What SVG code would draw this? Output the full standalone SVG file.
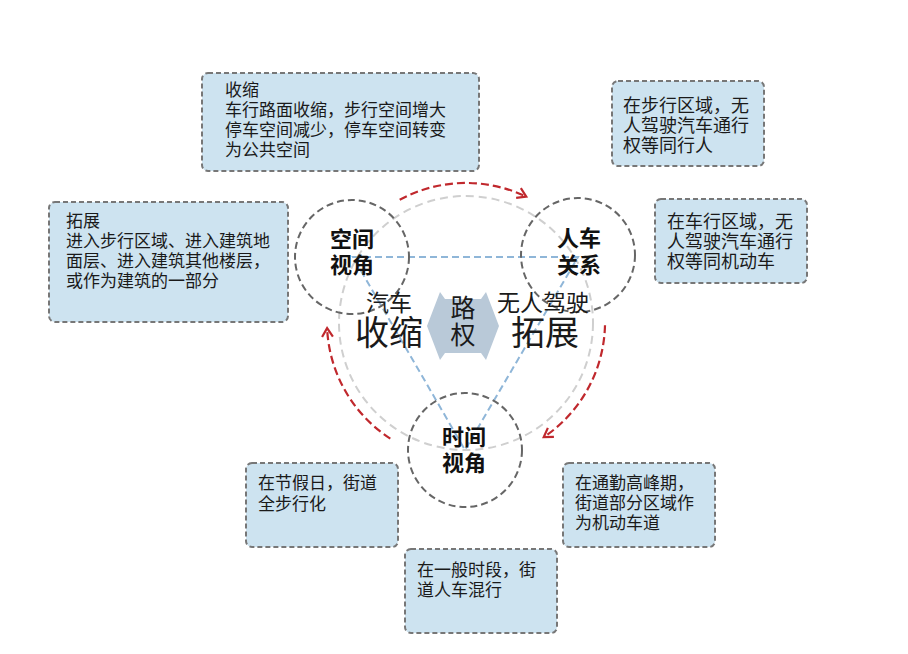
<svg xmlns="http://www.w3.org/2000/svg" width="908" height="654" viewBox="0 0 908 654">
<defs>
<style>
.box{fill:#cde3f0;stroke:#777;stroke-width:2;stroke-dasharray:5 3}
.bt{font-family:"Liberation Sans","Noto Sans CJK SC",sans-serif;font-size:17px;fill:#1a1a1a}
.bt18{font-size:18px}
.ring{fill:none;stroke:#666;stroke-width:2;stroke-dasharray:7 4}
.ct{font-family:"Liberation Sans","Noto Sans CJK SC",sans-serif;font-size:22px;font-weight:700;fill:#111;text-anchor:middle}
.big{fill:none;stroke:#cfcfcf;stroke-width:2;stroke-dasharray:8 5}
.tri{fill:none;stroke:#8fb6d8;stroke-width:2;stroke-dasharray:7 4}
.red{fill:none;stroke:#c0282d;stroke-width:2.2;stroke-dasharray:8 4;marker-end:url(#ah)}
.mt{font-family:"Liberation Sans","Noto Sans CJK SC",sans-serif;fill:#1a1a1a;text-anchor:middle}
</style>
<marker id="ah" viewBox="0 0 12 12" refX="9" refY="6" markerWidth="13" markerHeight="13" markerUnits="userSpaceOnUse" orient="auto">
<path d="M1,1 L9,6 L1,11" fill="none" stroke="#c0282d" stroke-width="2"/>
</marker>
</defs>
<rect width="908" height="654" fill="#ffffff"/>

<g id="box-shrink">
<rect class="box" x="202" y="73" width="277" height="98" rx="6"/>
<text class="bt"><tspan x="225" y="96">收缩</tspan><tspan x="225" y="116">车行路面收缩，步行空间增大</tspan><tspan x="225" y="136">停车空间减少，停车空间转变</tspan><tspan x="225" y="156">为公共空间</tspan></text>
</g>
<g id="box-expand">
<rect class="box" x="49" y="202" width="239" height="120" rx="6"/>
<text class="bt"><tspan x="66" y="227">拓展</tspan><tspan x="66" y="247">进入步行区域、进入建筑地</tspan><tspan x="66" y="267">面层、进入建筑其他楼层，</tspan><tspan x="66" y="287">或作为建筑的一部分</tspan></text>
</g>
<g id="box-pedestrian">
<rect class="box" x="612" y="81" width="152" height="85" rx="6"/>
<text class="bt bt18"><tspan x="623" y="112">在步行区域，无</tspan><tspan x="623" y="132">人驾驶汽车通行</tspan><tspan x="623" y="152">权等同行人</tspan></text>
</g>
<g id="box-vehicle">
<rect class="box" x="655" y="199" width="152" height="84" rx="6"/>
<text class="bt bt18"><tspan x="667" y="228">在车行区域，无</tspan><tspan x="667" y="248">人驾驶汽车通行</tspan><tspan x="667" y="268">权等同机动车</tspan></text>
</g>
<g id="box-holiday">
<rect class="box" x="246" y="463" width="152" height="84" rx="6"/>
<text class="bt"><tspan x="258" y="489">在节假日，街道</tspan><tspan x="258" y="510">全步行化</tspan></text>
</g>
<g id="box-peak">
<rect class="box" x="563" y="463" width="152" height="84" rx="6"/>
<text class="bt"><tspan x="575" y="489">在通勤高峰期，</tspan><tspan x="575" y="509">街道部分区域作</tspan><tspan x="575" y="529">为机动车道</tspan></text>
</g>
<g id="box-normal">
<rect class="box" x="405" y="549" width="152" height="84" rx="6"/>
<text class="bt"><tspan x="417" y="576">在一般时段，街</tspan><tspan x="417" y="596">道人车混行</tspan></text>
</g>

<g id="big-circle">
<circle class="big" cx="466" cy="323" r="127"/>
</g>

<g id="connectors">
<polygon class="tri" points="353,257 578,257 465,450"/>
<path class="red" d="M399.7,199.8 A139,139 0 0 1 526.3,196.7"/>
<path class="red" d="M605,325.2 A139,139 0 0 1 543.7,437.2"/>
<path class="red" d="M390.3,438.6 A139,139 0 0 1 327.1,328.1"/>
</g>

<g id="node-space">
<circle class="ring" cx="352" cy="257" r="57"/>
<text class="ct"><tspan x="352" y="247">空间</tspan><tspan x="352" y="273">视角</tspan></text>
</g>
<g id="node-people-car">
<circle class="ring" cx="578" cy="255" r="57"/>
<text class="ct"><tspan x="579" y="246">人车</tspan><tspan x="579" y="273">关系</tspan></text>
</g>
<g id="node-time">
<circle class="ring" cx="465" cy="450" r="57"/>
<text class="ct"><tspan x="464" y="445">时间</tspan><tspan x="464" y="471">视角</tspan></text>
</g>

<g id="center">
<path d="M427,326 L440,292 L445,299 L481,299 L486,292 L499,326 L486,360 L481,353 L445,353 L440,360 Z" fill="#b9c9d8"/>
<text class="mt" x="463" y="317" font-size="25">路</text>
<text class="mt" x="463" y="344" font-size="25">权</text>
<text class="mt" x="389" y="311" font-size="23" fill="#222">汽车</text>
<text class="mt" x="389" y="345" font-size="34">收缩</text>
<text class="mt" x="543" y="311" font-size="23" fill="#222">无人驾驶</text>
<text class="mt" x="545" y="345" font-size="34">拓展</text>
</g>
</svg>
